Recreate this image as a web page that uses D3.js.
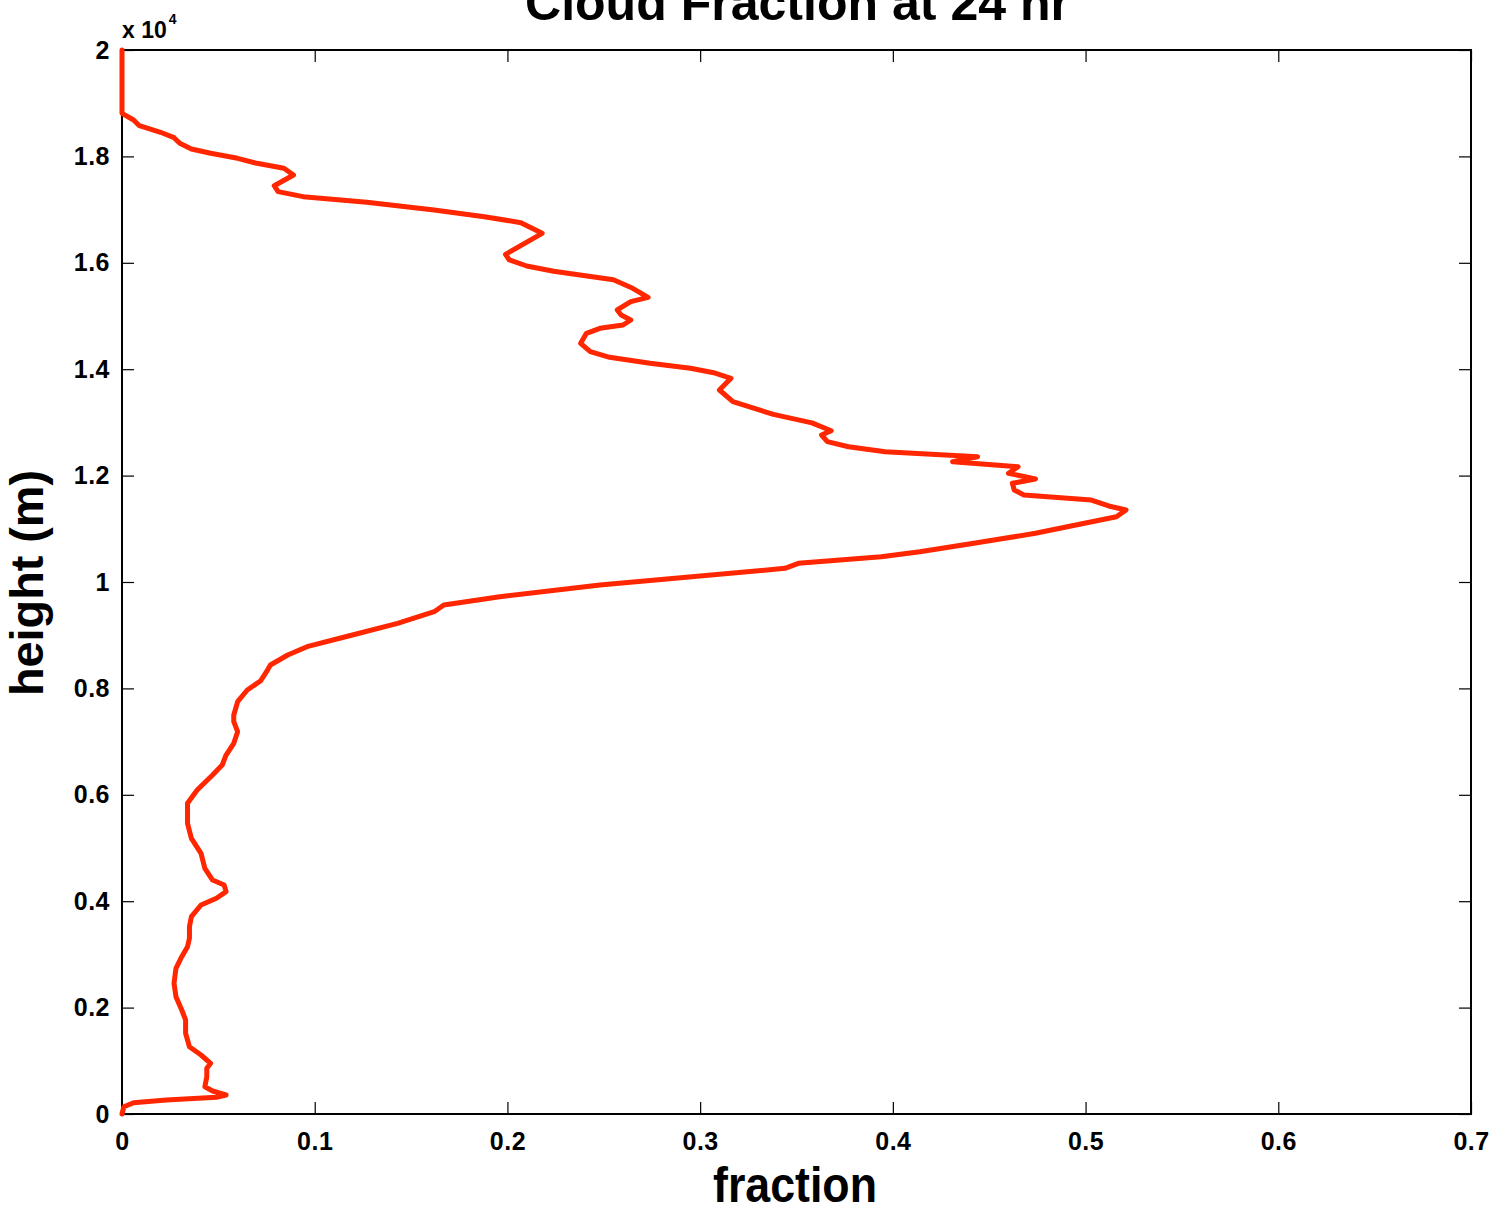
<!DOCTYPE html>
<html>
<head>
<meta charset="utf-8">
<script src="https://cdn.jsdelivr.net/npm/d3@7"></script>
<style>
	body { margin: 0; background: #fff; }
	svg text { font-family: "Liberation Sans", Arial, Helvetica, sans-serif; font-weight: bold; }
</style>
</head>
<body>
<div id="chart"></div>
<script>
const WIDTH = 1495;
const HEIGHT = 1207;
const MARGIN = { top: 50, right: 24, bottom: 93, left: 122 };
const LINE_COLOR = '#ff2600';
const TICK_LEN = 12;

// cloud fraction profile, read top to bottom
const FRACTION = [
	0, 0, 0.006, 0.009, 0.020, 0.027, 0.030, 0.036, 0.046, 0.060,
	0.070, 0.084, 0.089, 0.079, 0.081, 0.094, 0.127, 0.162, 0.188, 0.207,
	0.218, 0.199, 0.201, 0.210, 0.224, 0.255, 0.265, 0.273, 0.264, 0.257,
	0.259, 0.264, 0.260, 0.248, 0.241, 0.238, 0.243, 0.253, 0.274, 0.295,
	0.307, 0.316, 0.310, 0.317, 0.338, 0.358, 0.368, 0.363, 0.366, 0.377,
	0.396, 0.444, 0.431, 0.465, 0.460, 0.474, 0.462, 0.463, 0.468, 0.503,
	0.512, 0.521, 0.516, 0.474, 0.442, 0.414, 0.394, 0.351, 0.344, 0.248,
	0.196, 0.167, 0.162, 0.143, 0.115, 0.096, 0.086, 0.077, 0.075, 0.072,
	0.065, 0.060, 0.058, 0.058, 0.060, 0.058, 0.054, 0.052, 0.047, 0.039,
	0.034, 0.034, 0.036, 0.041, 0.043, 0.047, 0.053, 0.054, 0.049, 0.041,
	0.036, 0.035, 0.035, 0.034, 0.031, 0.028, 0.027, 0.028, 0.031, 0.033,
	0.033, 0.035, 0.041, 0.046, 0.044, 0.044, 0.043, 0.047, 0.054, 0.049,
	0.023, 0.006, 0.001, 0
];
const HEIGHT_M = [
	20000, 18810, 18684, 18577, 18453, 18352, 18246, 18139, 18058, 17964,
	17870, 17776, 17650, 17449, 17337, 17243, 17137, 16992, 16867, 16754,
	16554, 16159, 16053, 15940, 15840, 15680, 15520, 15351, 15269, 15113,
	15019, 14925, 14831, 14768, 14675, 14487, 14329, 14223, 14111, 14017,
	13934, 13829, 13609, 13389, 13150, 12990, 12844, 12763, 12638, 12543,
	12449, 12355, 12261, 12167, 12043, 11936, 11855, 11729, 11635, 11541,
	11429, 11353, 11227, 10915, 10727, 10570, 10476, 10351, 10257, 9944,
	9724, 9568, 9442, 9223, 8961, 8784, 8628, 8440, 8314, 8145,
	7970, 7750, 7500, 7374, 7186, 6968, 6748, 6560, 6372, 6090,
	5840, 5464, 5182, 4900, 4618, 4398, 4305, 4179, 4055, 3929,
	3709, 3521, 3303, 3145, 2957, 2739, 2457, 2205, 1955, 1767,
	1517, 1265, 1109, 953, 859, 701, 513, 432, 357, 314,
	263, 212, 137, 0
];
const X_TICKS = [0, 0.1, 0.2, 0.3, 0.4, 0.5, 0.6, 0.7];
const Y_TICKS = [0, 2000, 4000, 6000, 8000, 10000, 12000, 14000, 16000, 18000, 20000];

const TITLE = 'Cloud Fraction at 24 hr';
const X_LABEL = 'fraction';
const Y_LABEL = 'height (m)';

const main = () => {
	const points = FRACTION.map((f, i) => ({ f, h: HEIGHT_M[i] }));

	const svg = d3.select('#chart')
		.append('svg')
		.attr('width', WIDTH)
		.attr('height', HEIGHT);

	const x0 = MARGIN.left, x1 = WIDTH - MARGIN.right;
	const y0 = HEIGHT - MARGIN.bottom, y1 = MARGIN.top;

	// set domain and range
	const xScale = d3.scaleLinear().domain([0, 0.7]).range([x0, x1]);
	const yScale = d3.scaleLinear().domain([0, 20000]).range([y0, y1]);

	const fmtX = d => d === 0 ? '0' : d3.format('.1f')(d);
	const fmtY = d => {
		const v = d / 10000;
		return (v === 0 || v === 1 || v === 2) ? String(v) : d3.format('.1f')(v);
	};

	// draw axes, ticks pointing inward on all four sides
	const bottomAxis = svg.append('g')
		.attr('transform', `translate(0, ${y0})`)
		.call(d3.axisBottom(xScale).tickValues(X_TICKS).tickFormat(fmtX)
			.tickSizeInner(-TICK_LEN).tickSizeOuter(0).tickPadding(18));
	const topAxis = svg.append('g')
		.attr('transform', `translate(0, ${y1})`)
		.call(d3.axisTop(xScale).tickValues(X_TICKS).tickFormat('')
			.tickSizeInner(-TICK_LEN).tickSizeOuter(0));
	const leftAxis = svg.append('g')
		.attr('transform', `translate(${x0}, 0)`)
		.call(d3.axisLeft(yScale).tickValues(Y_TICKS).tickFormat(fmtY)
			.tickSizeInner(-TICK_LEN).tickSizeOuter(0).tickPadding(12));
	const rightAxis = svg.append('g')
		.attr('transform', `translate(${x1}, 0)`)
		.call(d3.axisRight(yScale).tickValues(Y_TICKS).tickFormat('')
			.tickSizeInner(-TICK_LEN).tickSizeOuter(0));

	[bottomAxis, topAxis, leftAxis, rightAxis].forEach(g => {
		g.select('.domain').remove();
		g.selectAll('.tick line').attr('stroke', '#000').attr('stroke-width', 1.2);
		g.selectAll('.tick text')
			.attr('fill', '#000')
			.style('font-size', '25px')
			.style('letter-spacing', '0.5px');
	});

	// box around the plot
	svg.append('rect')
		.attr('x', x0)
		.attr('y', y1)
		.attr('width', x1 - x0)
		.attr('height', y0 - y1)
		.attr('fill', 'none')
		.attr('stroke', '#000')
		.attr('stroke-width', 2);

	// draw profile line
	const line = d3.line()
		.x(d => xScale(d.f))
		.y(d => yScale(d.h));

	svg.append('path')
		.datum(points)
		.attr('d', line)
		.attr('fill', 'none')
		.attr('stroke', LINE_COLOR)
		.attr('stroke-width', 5)
		.attr('stroke-linejoin', 'round')
		.attr('stroke-linecap', 'round');

	// exponent note
	const expo = svg.append('text')
		.attr('x', x0)
		.attr('y', 38);
	expo.append('tspan')
		.style('font-size', '23px')
		.text('x 10');
	expo.append('tspan')
		.attr('dy', -14)
		.attr('dx', 2)
		.style('font-size', '14px')
		.text('4');

	// build title and labels
	svg.append('text')
		.attr('x', 525)
		.attr('y', 20)
		.attr('textLength', 545)
		.attr('lengthAdjust', 'spacingAndGlyphs')
		.style('font-size', '50px')
		.text(TITLE);

	svg.append('text')
		.attr('x', 713)
		.attr('y', 1202)
		.attr('textLength', 164)
		.attr('lengthAdjust', 'spacingAndGlyphs')
		.style('font-size', '50px')
		.text(X_LABEL);

	svg.append('text')
		.attr('transform', `translate(43, 696) rotate(-90)`)
		.attr('textLength', 226)
		.attr('lengthAdjust', 'spacingAndGlyphs')
		.style('font-size', '47px')
		.text(Y_LABEL);
};

main();
</script>
</body>
</html>
